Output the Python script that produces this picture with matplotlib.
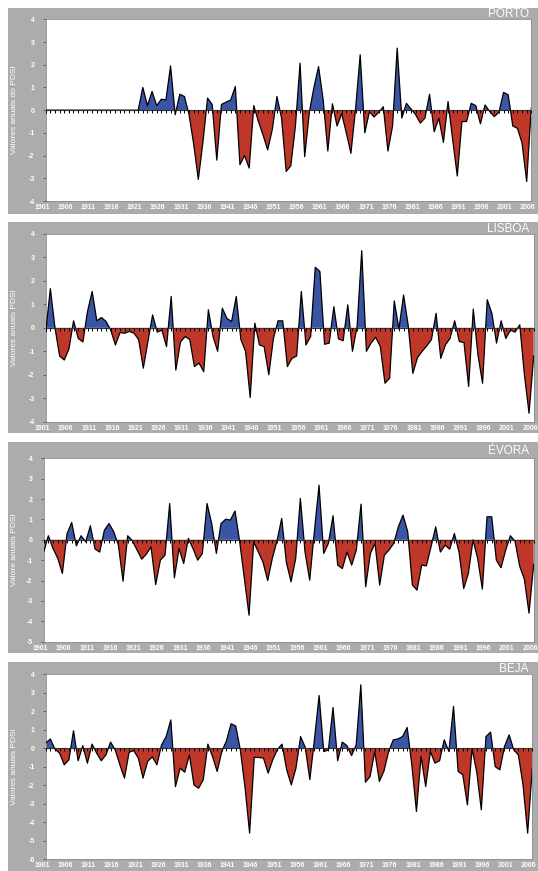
import numpy as np
import matplotlib.pyplot as plt
import matplotlib.transforms as mtransforms
from matplotlib.patches import Rectangle

plt.rcParams['font.family'] = ['Liberation Sans', 'DejaVu Sans']

years = np.arange(1901, 2007)

# annual PDSI values, one row per decade
porto = [0, 0, 0, 0, 0, 0, 0, 0, 0, 0,
         0, 0, 0, 0, 0, 0, 0, 0, 0, 0,
         0.0, 1.0, 0.2, 0.82, 0.2, 0.48, 0.45, 1.95, -0.2, 0.7,
         0.6, -0.2, -1.5, -3.05, -1.4, 0.53, 0.25, -2.2, 0.25, 0.35,
         0.45, 1.04, -2.4, -2.0, -2.55, 0.2, -0.5, -1.1, -1.75, -0.85,
         0.6, -0.35, -2.7, -2.45, -0.7, 2.07, -2.05, -0.1, 1.0, 1.92,
         0.45, -1.8, 0.28, -0.7, -0.15, -1.0, -1.9, 0.05, 2.44, -1.0,
         -0.06, -0.3, -0.1, 0.15, -1.8, -0.7, 2.73, -0.35, 0.3, 0.05,
         -0.2, -0.57, -0.35, 0.7, -0.95, -0.35, -1.42, 0.38, -1.3, -2.9,
         -0.5, -0.5, 0.3, 0.2, -0.6, 0.23, -0.06, -0.28, -0.1, 0.78,
         0.68, -0.7, -0.8, -1.45, -3.14, 0.1]

lisboa = [-0.2, 1.67, 0.0, -1.2, -1.37, -0.9, 0.3, -0.45, -0.6, 0.7,
          1.55, 0.3, 0.44, 0.27, -0.1, -0.73, -0.2, -0.23, -0.15, -0.23,
          -0.5, -1.72, -0.58, 0.55, -0.18, -0.1, -0.8, 1.34, -1.8, -0.6,
          -0.37, -0.5, -1.65, -1.5, -1.87, 0.77, -0.37, -1.0, 0.84, 0.4,
          0.27, 1.34, -0.5, -1.0, -2.97, 0.2, -0.73, -0.8, -2.0, -0.45,
          0.3, 0.3, -1.65, -1.3, -1.2, 1.55, -0.73, -0.37, 2.58, 2.4,
          -0.7, -0.65, 0.9, -0.47, -0.55, 0.98, -1.0, 0.05, 3.29, -1.0,
          -0.65, -0.4, -0.8, -2.36, -2.15, 1.15, -0.05, 1.4, 0.1, -1.94,
          -1.27, -1.0, -0.77, -0.5, 0.62, -1.3, -0.73, -0.45, 0.3, -0.58,
          -0.63, -2.5, 0.8, -1.15, -2.36, 1.2, 0.62, -0.65, 0.3, -0.45,
          -0.1, -0.18, 0.13, -2.0, -3.64, -1.2]

evora = [-0.6, 0.2, -0.43, -0.9, -1.65, 0.3, 0.85, -0.3, 0.2, -0.1,
         0.69, -0.45, -0.6, 0.47, 0.8, 0.4, -0.25, -2.03, 0.2, -0.05,
         -0.5, -0.95, -0.7, -0.35, -2.2, -1.0, -0.75, 1.78, -1.87, -0.43,
         -1.16, 0.07, -0.43, -1.0, -0.67, 1.78, 0.8, -0.67, 0.8, 1.01,
         0.97, 1.41, -0.1, -1.9, -3.7, -0.1, -0.6, -1.1, -2.0, -0.9,
         -0.05, 1.05, -1.1, -2.06, -0.92, 2.03, -0.6, -1.98, 0.4, 2.68,
         -0.67, -0.18, 1.18, -1.24, -1.41, -0.6, -1.24, -0.5, 1.75, -2.3,
         -0.67, -0.18, -2.22, -0.75, -0.5, -0.18, 0.64, 1.21, 0.4, -2.22,
         -2.47, -1.24, -1.28, -0.34, 0.64, -0.6, -0.26, -0.46, 0.31, -0.6,
         -2.39, -1.65, 0.0, -0.92, -2.42, 1.13, 1.13, -1.0, -1.37, -0.5,
         0.2, -0.07, -1.3, -1.93, -3.6, -1.2]

beja = [0.27, 0.5, -0.05, -0.27, -0.9, -0.63, 0.94, -0.68, 0.14, -0.81,
        0.22, -0.27, -0.68, -0.36, 0.33, -0.09, -0.9, -1.62, -0.22, -0.13,
        -0.54, -1.62, -0.72, -0.47, -0.9, 0.18, 0.63, 1.53, -2.08, -1.08,
        -1.3, -0.36, -1.99, -2.17, -1.71, 0.22, -0.45, -1.26, -0.18, 0.4,
        1.32, 1.2, -0.09, -2.1, -4.6, -0.5, -0.5, -0.54, -1.35, -0.63,
        -0.07, 0.22, -1.17, -1.99, -1.08, 0.63, 0.05, -1.7, 0.5, 2.85,
        -0.18, -0.1, 2.2, -0.68, 0.33, 0.14, -0.4, 0.18, 3.43, -1.84,
        -1.53, -0.18, -1.8, -1.23, -0.18, 0.45, 0.5, 0.63, 1.12, -0.9,
        -3.43, -0.45, -2.08, -0.18, -0.81, -0.68, 0.45, -0.18, 2.26, -1.26,
        -1.44, -3.07, -0.04, -1.26, -3.34, 0.63, 0.87, -1.0, -1.17, 0.09,
        0.72, -0.09, -0.36, -1.99, -4.6, -1.08]

stations = ['PORTO', 'LISBOA', 'ÉVORA', 'BEJA']
ylabels = ['Valores anuais do PDSI', 'Valores anuais PDSI',
           'Valore anuais PDSI', 'Valores anuais PDSI']
series = [porto, lisboa, evora, beja]
ylims = [(-4, 4), (-4, 4), (-5, 4), (-6, 4)]

W, H = 538, 871
fig = plt.figure(figsize=(W / 100, H / 100), dpi=100)

# pixel boxes: gray frame and white plot area (x0, y0, x1, y1 from top-left)
frames = [(8, 8, 538, 214), (8, 222, 538, 433), (8, 442, 538, 653), (8, 662, 538, 871)]
plots = [(45.7, 19.3, 531.3, 201), (45.7, 234, 533.7, 421.7),
         (43.7, 458.3, 533.7, 641.7), (45.7, 674.3, 532.3, 859)]

gray = '#acacac'
blue = '#3a54a6'
red = '#bf3729'


def fig_rect(b):
    x0, y0, x1, y1 = b
    return [x0 / W, 1 - y1 / H, (x1 - x0) / W, (y1 - y0) / H]


for name, ylab, vals, (lo, hi), frame, box in zip(stations, ylabels, series, ylims, frames, plots):
    vals = np.array(vals, dtype=float)
    r = fig_rect(frame)
    fig.add_artist(Rectangle((r[0], r[1]), r[2], r[3], transform=fig.transFigure,
                             facecolor=gray, edgecolor='none', zorder=0))

    ax = fig.add_axes(fig_rect(box))
    ax.set_facecolor('white')
    ax.fill_between(years, vals, 0, where=vals >= 0, interpolate=True, color=blue, lw=0)
    ax.fill_between(years, vals, 0, where=vals <= 0, interpolate=True, color=red, lw=0)
    ax.plot(years, vals, color='black', lw=0.9, zorder=3)
    ax.axhline(0, color='#333333', lw=0.8, zorder=4)
    ax.plot(years, np.zeros(len(years)), ls='none', marker=3, ms=2.5,
            mew=0.7, color='black', zorder=4)

    ax.set_xlim(years[0], years[-1])
    ax.set_ylim(lo, hi)
    ax.set_xticks([])
    # year labels, drawn a few px left of their year as in the original
    trans = mtransforms.offset_copy(ax.get_xaxis_transform(), fig=fig, x=-3.5, y=-3, units='dots')
    for yr in years[::5]:
        ax.text(yr, 0, str(yr), transform=trans, fontsize=5, fontweight='bold',
                color='white', ha='center', va='top', clip_on=False)
    ax.set_yticks(range(lo, hi + 1))
    ax.set_yticklabels([str(v) for v in range(lo, hi + 1)], fontsize=5, fontweight='bold', color='white')
    ax.tick_params(axis='y', length=2, width=0.6, color='#555555', pad=6)
    for s in ax.spines.values():
        s.set_color('#8c8c8c')
        s.set_linewidth(0.6)

    x0, y0, x1, y1 = box
    fig.text(15 / W, 1 - (y0 + y1) / 2 / H, ylab, rotation=90, color='white',
             fontsize=6, ha='center', va='center')
    fig.text(529 / W, 1 - (frame[1] + (y0 - frame[1]) / 2 + 0.5) / H, name,
             color='white', fontsize=8.5, ha='right', va='center')

fig.savefig('out.png', dpi=100)
